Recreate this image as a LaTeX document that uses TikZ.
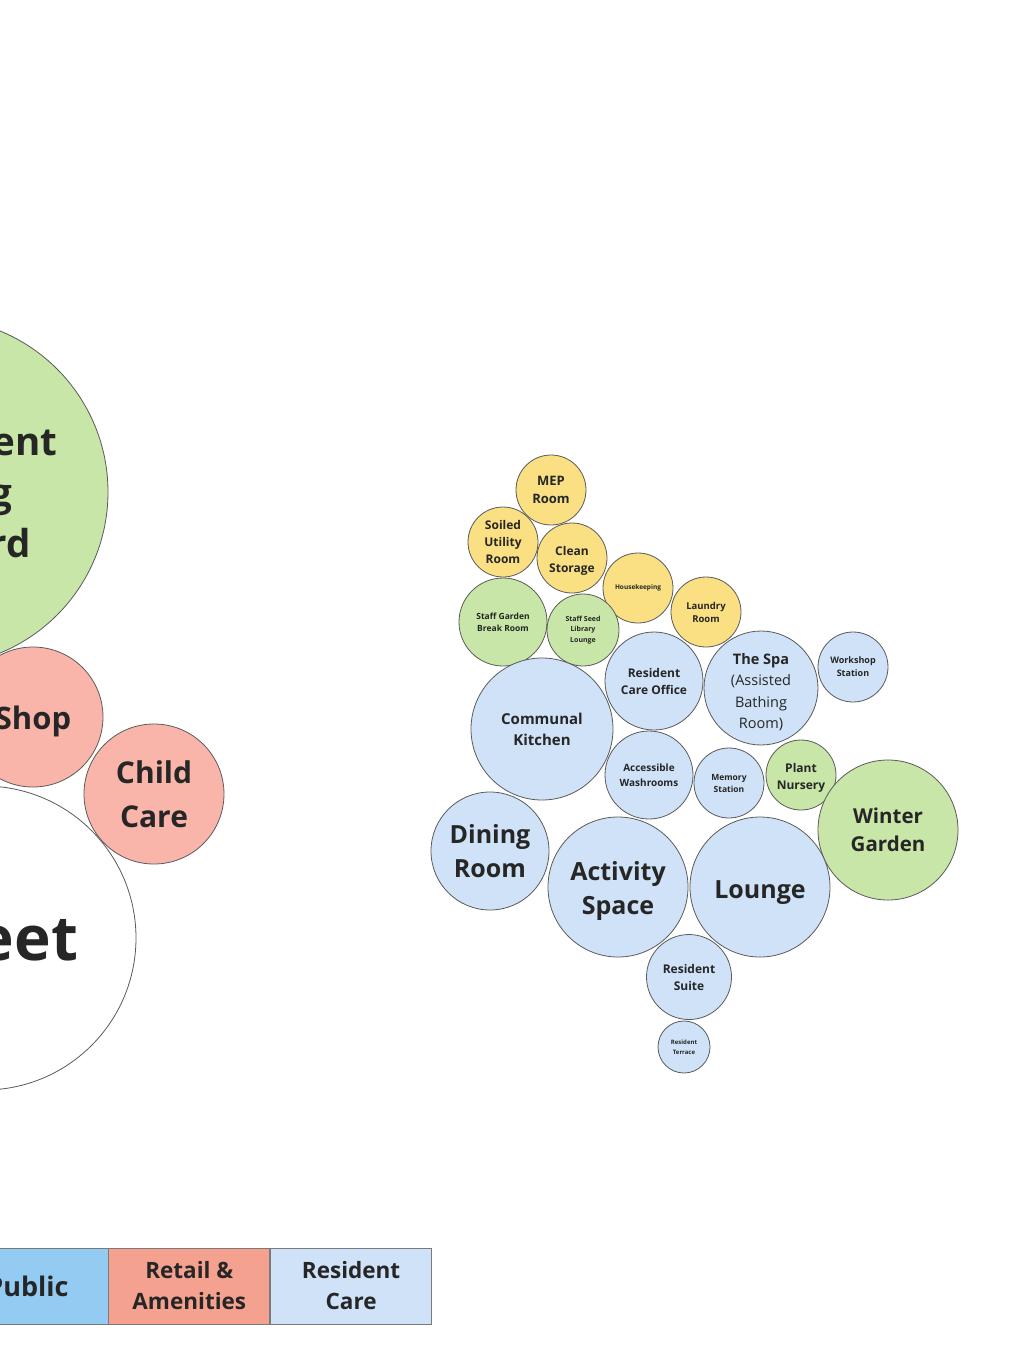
\documentclass[tikz,border=0pt]{standalone}
\usepackage{fontspec}
\setmainfont{Open Sans}
\usetikzlibrary{positioning}
\definecolor{roomedge}{HTML}{5A5A5A}
\definecolor{roomtext}{HTML}{262626}
\definecolor{carefill}{HTML}{CFE2F7}
\definecolor{gardenfill}{HTML}{C7E6A7}
\definecolor{servicefill}{HTML}{FAE083}
\definecolor{retailfill}{HTML}{F9B5A9}
\definecolor{publickey}{HTML}{93CBF3}
\definecolor{retailkey}{HTML}{F5A190}
\definecolor{keyedge}{HTML}{7A7A7A}

\begin{document}
\begin{tikzpicture}[
    x=1pt, y=-1pt,
    room/.style={circle, draw=roomedge, line width=0.8pt, inner sep=0pt,
      align=center, text=roomtext},
    care/.style={room, fill=carefill},
    garden/.style={room, fill=gardenfill},
    service/.style={room, fill=servicefill},
    retail/.style={room, fill=retailfill},
    street/.style={room, fill=white},
    dia/.style={minimum size=#1pt},
    fsz/.style 2 args={font=\fontsize{#1}{#2}\selectfont\bfseries},
    key/.style={draw=keyedge, line width=0.8pt, minimum width=161pt,
      minimum height=76pt, inner sep=0pt, align=center, text=roomtext,
      fsz={22.5}{31}},
  ]
  \useasboundingbox (0,0) rectangle (1014,1345);
  \clip (0,0) rectangle (1014,1345);

  % left side, cut by the page edge
  \node[garden, dia=348] (courtyard) at (-66,492) {};
  \node[fsz={38.5}{51}, align=center, text=roomtext] (courtyardname) at (-66,496)
    {Independent\\Housing\\Courtyard};
  \node[retail, dia=140, fsz={31}{44}, text height=33pt] (shop) at (33,717) {Shop};
  \node[retail, dia=140, fsz={30}{44}] (childcare) at (154,794) {Child\\Care};
  \node[street, dia=304, fsz={62}{80}] (street) at (-16,938) {Street};

  % service rooms
  \node[service, dia=70, fsz={13}{18}] (mep) at (551,490) {MEP\\Room};
  \node[service, dia=70, fsz={12}{17}] (soiled) at (503,542) {Soiled\\Utility\\Room};
  \node[service, dia=70, fsz={12}{17}, text height=31pt] (clean) at (572,558) {Clean\\Storage};
  \node[service, dia=70, fsz={6.5}{9}] (housekeeping) at (638,588) {Housekeeping};
  \node[service, dia=70, fsz={9.5}{13}] (laundry) at (706,612) {Laundry\\Room};

  % gardens
  \node[garden, dia=88, fsz={8.5}{12}] (staffgarden) at (503,622)
    {Staff Garden\\Break Room};
  \node[garden, dia=72, fsz={7}{10.5}] (seedlibrary) at (583,630)
    {Staff Seed\\Library\\Lounge};
  \node[garden, dia=70, fsz={12}{17}, text height=32pt] (nursery) at (801,775) {Plant\\Nursery};
  \node[garden, dia=140, fsz={20.5}{28}] (wintergarden) at (888,830)
    {Winter\\Garden};

  % resident care
  \node[care, dia=98, fsz={12}{17}] (careoffice) at (654,681)
    {Resident\\Care Office};
  \node[care, dia=114, fsz={14.5}{21.5}, text height=84pt] (spa) at (761,688)
    {The Spa\\{\mdseries(Assisted}\\{\mdseries Bathing}\\{\mdseries Room)}};
  \node[care, dia=70, fsz={9}{13}] (workshop) at (853,667) {Workshop\\Station};
  \node[care, dia=142, fsz={15}{21}] (kitchen) at (542,729) {Communal\\Kitchen};
  \node[care, dia=88, fsz={10}{15}] (washrooms) at (649,775)
    {Accessible\\Washrooms};
  \node[care, dia=70, fsz={8.5}{12}] (memory) at (729,783) {Memory\\Station};
  \node[care, dia=118, fsz={25}{34}] (dining) at (490,851) {Dining\\Room};
  \node[care, dia=140, fsz={25}{34}, text height=60pt] (activity) at (618,887) {Activity\\Space};
  \node[care, dia=140, fsz={25}{34}, text height=28pt] (lounge) at (760,887) {Lounge};
  \node[care, dia=85, fsz={12}{17}] (suite) at (689,977) {Resident\\Suite};
  \node[care, dia=52, fsz={6}{9.5}] (terrace) at (684,1047) {Resident\\Terrace};

  % legend
  \node[key, fill=publickey, fsz={27}{31}] (pubkey) at (27.5,1286) {Public};
  \node[key, fill=retailkey, right=0pt of pubkey] (retailkey) {Retail \&\\Amenities};
  \node[key, fill=carefill, right=0pt of retailkey] (carekey) {Resident\\Care};
\end{tikzpicture}
\end{document}
